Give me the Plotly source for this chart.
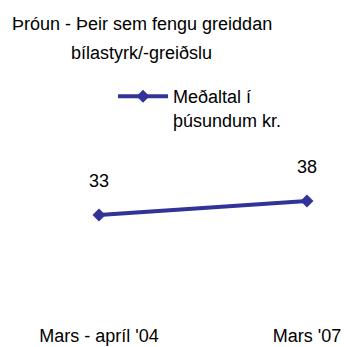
import plotly.graph_objects as go

# Period labels and average amounts (thousands of ISK)
periods = ["Mars - apríl '04", "Mars '07"]
average_thousands = [33, 38]
series_name = "Meðaltal í<br>þúsundum kr."
title_lines = ["Þróun - Þeir sem fengu greiddan", "bílastyrk/-greiðslu"]

FONT = "Liberation Sans, Arial, sans-serif"
LINE_COLOR = "#313399"

fig = go.Figure()
fig.add_trace(go.Scatter(
    x=periods,
    y=average_thousands,
    mode="lines+markers",
    name=series_name,
    line=dict(color=LINE_COLOR, width=4),
    marker=dict(symbol="diamond", size=10, color=LINE_COLOR),
))

# Value labels above each point
for p, v in zip(periods, average_thousands):
    fig.add_annotation(x=p, y=v, text=str(v), showarrow=False,
                       yanchor="bottom", yshift=22,
                       font=dict(family=FONT, size=18, color="black"))

# Two-line heading
for txt, yp in zip(title_lines, [1.682, 1.511]):
    fig.add_annotation(x=0.401, y=yp, xref="paper", yref="paper",
                       text=txt, showarrow=False, xanchor="center", yanchor="middle",
                       font=dict(family=FONT, size=18, color="black"))

fig.update_layout(
    width=344, height=347,
    margin=dict(l=20, r=20, t=140, b=37, autoexpand=False),
    paper_bgcolor="white", plot_bgcolor="white",
    font=dict(family=FONT, size=18, color="black"),
    showlegend=True,
    legend=dict(x=0.306, y=1.365, xanchor="left", yanchor="top",
                valign="top", itemwidth=50,
                bgcolor="rgba(0,0,0,0)",
                font=dict(family=FONT, size=18, color="black")),
    xaxis=dict(type="category", range=[-0.38, 1.082], automargin=False,
               showgrid=False, zeroline=False, showline=False,
               ticks="", ticklabelstandoff=13,
               tickfont=dict(family=FONT, size=18, color="black")),
    yaxis=dict(range=[-0.93, 59.78], visible=False,
               showgrid=False, zeroline=False),
)

fig.write_html("out.html")
